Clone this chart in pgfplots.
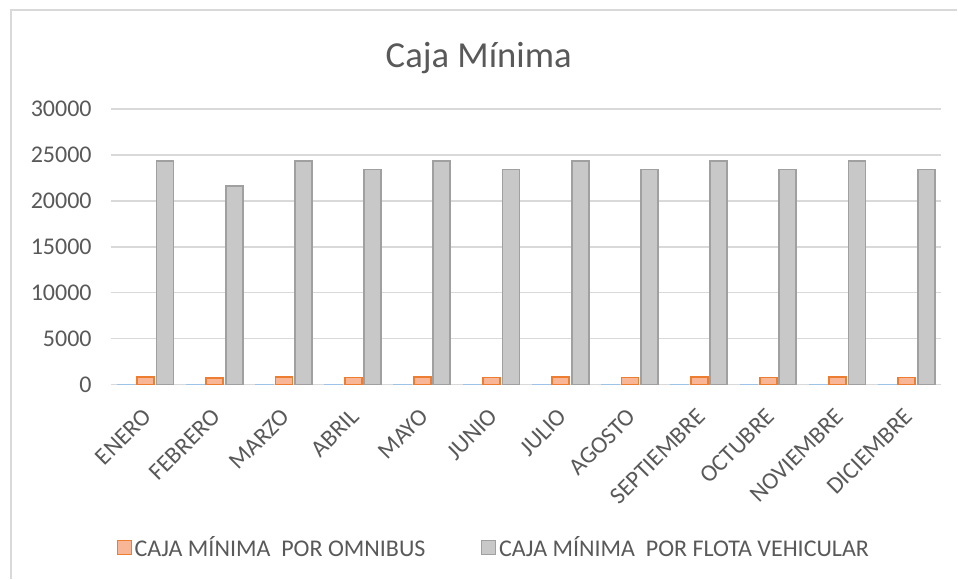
\documentclass[border=0pt]{standalone}
\usepackage{pgfplots}
\pgfplotsset{compat=1.18}
\usepackage{fontspec}
\setmainfont{Carlito}
\definecolor{txt}{HTML}{595959}
\definecolor{gridc}{HTML}{D9D9D9}
\definecolor{bluef}{HTML}{BDD7EE}
\definecolor{bluee}{HTML}{9DC3E6}
\definecolor{orf}{HTML}{F8B696}
\definecolor{ore}{HTML}{ED7D31}
\definecolor{grf}{HTML}{C8C8C8}
\definecolor{gre}{HTML}{A0A0A0}
\begin{document}
\begin{tikzpicture}
\path (0pt,0pt) rectangle (718.5pt,-434.25pt);
\draw[gridc, line width=0.9pt] (8.25pt,-434.25pt) -- (8.25pt,-7.5pt) -- (718.5pt,-7.5pt);
\node[text=txt, font=\fontsize{27.5}{32}\selectfont] at (359.25pt,-43.5pt) {Caja Mínima};
\begin{axis}[
  at={(83.25pt,-288.75pt)}, anchor=south west,
  scale only axis, width=623.25pt, height=207pt,
  ybar, bar width=12.75pt,
  xmin=-0.5, xmax=11.5, ymin=0, ymax=30000,
  ytick={0,5000,...,30000},
  xtick={0,...,11},
  xticklabels={ENERO,FEBRERO,MARZO,ABRIL,MAYO,JUNIO,JULIO,AGOSTO,SEPTIEMBRE,OCTUBRE,NOVIEMBRE,DICIEMBRE},
  scaled y ticks=false,
  /pgf/number format/assume math mode=true,
  /pgf/number format/1000 sep={},
  ymajorgrids, grid style={gridc, line width=1pt},
  axis line style={draw=none},
  major tick length=0pt,
  tick label style={text=txt, font=\fontsize{18}{20}\selectfont},
  yticklabel style={xshift=-11pt},
  xticklabel style={rotate=45, anchor=east, inner sep=0pt, xshift=-13.8pt, yshift=-15.9pt},
  legend style={at={(0.4615,-0.59)}, anchor=center, draw=none, fill=none,
    font=\fontsize{18}{20}\selectfont, text=txt,
    /tikz/every even column/.append style={column sep=40pt}},
  legend columns=2,
  legend image code/.code={\draw[#1, line width=0.8pt] (0pt,-5pt) rectangle (10.5pt,5.5pt);},
]
\addplot[fill=bluef, draw=bluee, line width=1.4pt, bar shift=-14.6pt, forget plot] coordinates {
(0,27) (1,24) (2,27) (3,26) (4,27) (5,26) (6,27) (7,26) (8,27) (9,26) (10,27) (11,26)};
\addplot[fill=orf, draw=ore, line width=1.3pt, bar shift=0pt] coordinates {
(0,810) (1,720) (2,810) (3,780) (4,810) (5,780) (6,810) (7,780) (8,810) (9,780) (10,810) (11,780)};
\addlegendentry{CAJA MÍNIMA\ \ POR OMNIBUS}
\addplot[fill=grf, draw=gre, line width=1.3pt, bar shift=14.6pt] coordinates {
(0,24300) (1,21600) (2,24300) (3,23400) (4,24300) (5,23400) (6,24300) (7,23400) (8,24300) (9,23400) (10,24300) (11,23400)};
\addlegendentry{CAJA MÍNIMA\ \ POR FLOTA VEHICULAR}
\end{axis}
\end{tikzpicture}
\end{document}
